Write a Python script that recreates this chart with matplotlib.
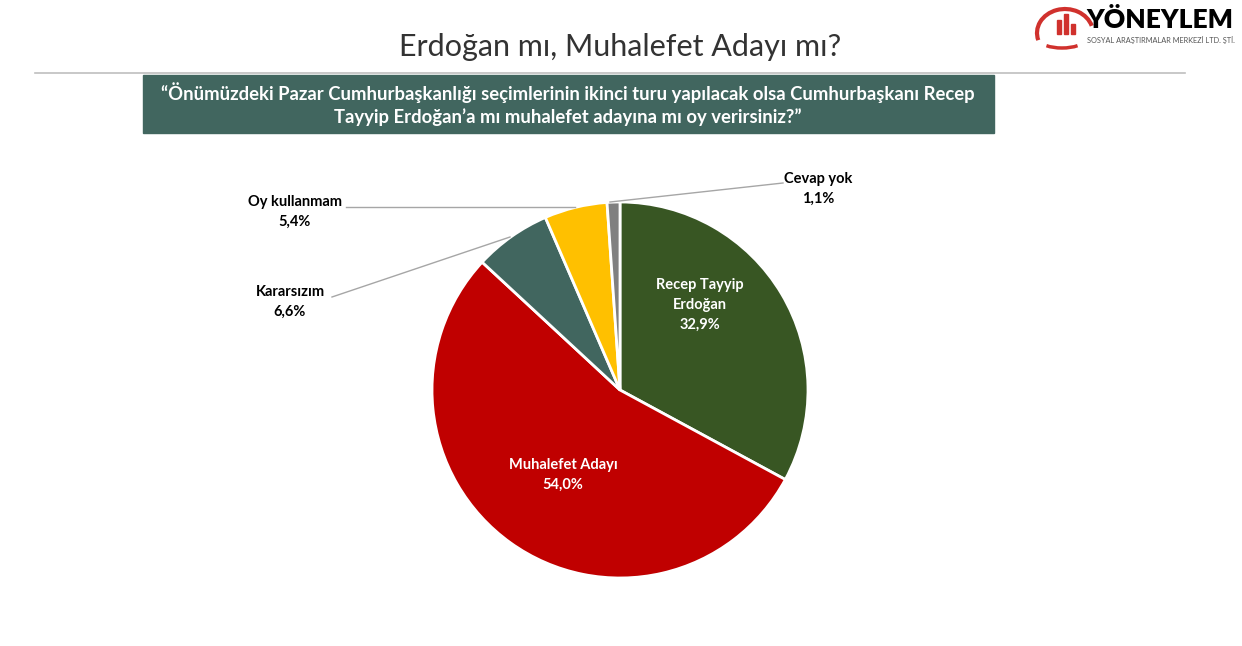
import matplotlib.pyplot as plt
from matplotlib.patches import Rectangle, Arc

labels = ['Recep Tayyip\nErdoğan', 'Muhalefet Adayı', 'Kararsızım', 'Oy kullanmam', 'Cevap yok']
values = [32.9, 54.0, 6.6, 5.4, 1.1]
colors = ['#385623', '#C00000', '#41665F', '#FFC000', '#808080']

plt.rcParams['font.family'] = ['Lato', 'DejaVu Sans']

fig = plt.figure(figsize=(12.42, 6.46), dpi=100)
ax = fig.add_axes([0, 0, 1, 1])

# title + rule
ax.text(620, 47, 'Erdoğan mı, Muhalefet Adayı mı?', ha='center', va='center',
        fontsize=22, color='#333333')
ax.plot([35, 1185], [73, 73], color='#BFBFBF', lw=1.2)

# question box
ax.add_patch(Rectangle((143, 75), 851, 58, color='#41665F'))
ax.text(568, 104, '“Önümüzdeki Pazar Cumhurbaşkanlığı seçimlerinin ikinci turu yapılacak olsa Cumhurbaşkanı Recep\n'
        'Tayyip Erdoğan’a mı muhalefet adayına mı oy verirsiniz?”',
        ha='center', va='center', fontsize=13.3, fontweight='bold', color='white', linespacing=1.3)

# logo (y axis is inverted, so angles run the other way)
ax.add_patch(Arc((1065, 33), 56, 48, theta1=165, theta2=345, color='#D0312D', lw=3))
for i, h in enumerate([14, 20, 10]):
    ax.add_patch(Rectangle((1057 + i * 7, 34 - h), 4, h, color='#D0312D'))
ax.add_patch(Arc((1062, 40), 44, 16, theta1=20, theta2=160, color='#D0312D', lw=2.5))
ax.text(1086, 20, 'YÖNEYLEM', ha='left', va='center', fontsize=19, fontweight='heavy', color='black')
ax.text(1087, 40, 'SOSYAL ARAŞTIRMALAR MERKEZİ LTD. ŞTİ.', ha='left', va='center', fontsize=5.3, color='#555555')

# pie (y axis inverted -> counterclock=True draws clockwise on screen)
cx, cy, r = 620, 390, 188
ax.pie(values, colors=colors, startangle=-90, counterclock=True,
       center=(cx, cy), radius=r, frame=True,
       wedgeprops=dict(edgecolor='white', linewidth=2))
ax.set_xlim(0, 1242)
ax.set_ylim(646, 0)
ax.axis('off')

lab_kw = dict(ha='center', va='center', fontsize=10.5, fontweight='bold', linespacing=1.5)
ax.text(700, 305, f'{labels[0]}\n{values[0]:.1f}'.replace('.', ',') + '%', color='white', **lab_kw)
ax.text(563, 475, f'{labels[1]}\n{values[1]:.1f}'.replace('.', ',') + '%', color='white', **lab_kw)

outside = [
    (2, (290, 302), [(332, 297), (510, 237)]),
    (3, (295, 212), [(346, 207), (575, 207)]),
    (4, (818, 189), [(783, 183), (610, 202)]),
]
for i, pos, line in outside:
    ax.text(pos[0], pos[1], f'{labels[i]}\n{values[i]:.1f}'.replace('.', ',') + '%', color='black', **lab_kw)
    ax.plot([p[0] for p in line], [p[1] for p in line], color='#A6A6A6', lw=1)

fig.savefig('out.png', dpi=100)
